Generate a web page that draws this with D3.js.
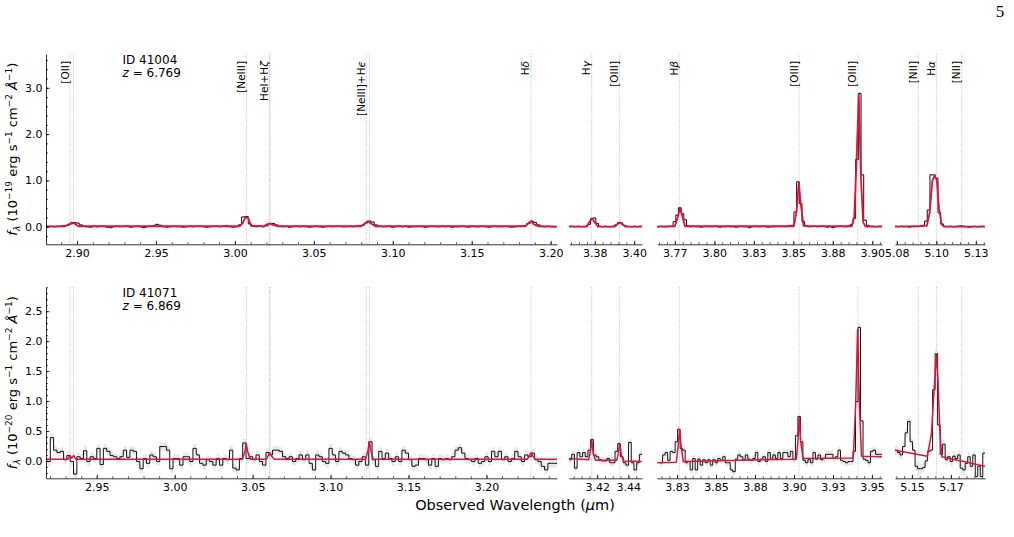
<!DOCTYPE html>
<html lang="en">
<head>
<meta charset="UTF-8">
<script src="https://d3js.org/d3.v7.min.js"></script>
<style>
body { margin: 0; background: #fff; }
svg { font-family: 'DejaVu Sans', sans-serif; }
text { white-space: pre; }
</style>
<title>Spectra 41004 / 41071</title>
</head>
<body>
<svg id="chart" width="1014" height="537"></svg>
<script>
// emission lines (vacuum rest wavelength, Angstrom) and their labels
const lineRest = [3727.09, 3729.88, 3870.86, 3889.75, 3890.17, 3968.59, 3971.20, 4102.89,
                  4341.69, 4364.44, 4862.69, 4960.30, 5008.24, 6549.86, 6564.61, 6585.27];
const lineLabels = ['[OII]', null, '[NeIII]', 'HeI+Hζ', null, '[NeIII]+Hϵ', null, 'Hδ',
                    'Hγ', '[OIII]', 'Hβ', '[OIII]', '[OIII]', '[NII]', 'Hα', '[NII]'];
// rest-frame range of each of the four broken-axis panels
const panelRest = [[3707.5, 4124.1], [4323.2, 4382.7], [4844.5, 5027.9], [6530.9, 6604.2]];

const ids = ['41004', '41071'];
const redshifts = [6.769, 6.869];
const fluxExp = ['19', '20'];

// y axes
const yDomain41004 = [-0.38, 3.73];
const yDomain41071 = [-0.29, 2.905];
const yTicks41004 = [0, 1, 2, 3];
const yTicks41071 = [0, 0.5, 1, 1.5, 2, 2.5];

// x ticks (um) and their printed labels
const xTicks41004 = [[2.90, 2.95, 3.00, 3.05, 3.10, 3.15, 3.20], [3.375, 3.40],
                     [3.775, 3.80, 3.825, 3.85, 3.875, 3.90], [5.075, 5.10, 5.125]];
const xLabels41004 = [['2.90', '2.95', '3.00', '3.05', '3.10', '3.15', '3.20'], ['3.38', '3.40'],
                      ['3.77', '3.80', '3.83', '3.85', '3.88', '3.90'], ['5.08', '5.10', '5.13']];
const xTicks41071 = [[2.95, 3.00, 3.05, 3.10, 3.15, 3.20], [3.42, 3.44],
                     [3.825, 3.85, 3.875, 3.90, 3.925, 3.95], [5.15, 5.175]];
const xLabels41071 = [['2.95', '3.00', '3.05', '3.10', '3.15', '3.20'], ['3.42', '3.44'],
                      ['3.83', '3.85', '3.88', '3.90', '3.93', '3.95'], ['5.15', '5.17']];
const xMinor = [0.01, 0.005, 0.005, 0.005];

// spectrum grids: first bin edge (um) and bin width per panel
const wStart41004 = [2.88036, 3.35869, 3.76369, 5.07386];
const wStep41004 = [0.0021, 0.0017, 0.0017, 0.0017];
const wStart41071 = [2.91807, 3.40193, 3.81412, 5.13917];
const wStep41071 = [0.002128, 0.001736, 0.001607, 0.001607];

// observed flux, ID 41004 (1e-19)
const flux41004a = [
  0.01, 0.01, 0.00, 0.01, 0.01, 0.02, 0.03, 0.06, 0.09, 0.08,
  0.04, 0.01, 0.00, -0.01, 0.01, 0.00, 0.01, 0.01, -0.01, -0.02,
  0.00, 0.01, 0.00, 0.01, 0.01, -0.01, 0.00, 0.01, 0.00, -0.02,
  0.00, 0.01, 0.02, 0.05, 0.03, 0.00, -0.01, 0.00, 0.01, 0.00,
  0.00, -0.01, 0.00, 0.01, 0.00, 0.01, 0.01, 0.00, -0.01, 0.00,
  0.01, 0.01, 0.00, 0.01, 0.02, 0.00, -0.01, 0.00, 0.04, 0.21,
  0.22, 0.06, 0.01, 0.00, 0.01, 0.00, 0.02, 0.06, 0.07, 0.04,
  0.01, 0.00, 0.01, -0.01, 0.00, 0.01, 0.00, 0.01, 0.00, -0.01,
  0.00, 0.01, 0.00, -0.01, 0.00, 0.01, 0.00, 0.01, 0.01, 0.00,
  0.00, 0.01, 0.00, 0.01, 0.02, 0.03, 0.08, 0.12, 0.10, 0.04,
  0.01, 0.00, 0.00, 0.01, -0.01, 0.00, 0.01, 0.00, 0.01, -0.01,
  0.00, 0.00, 0.01, 0.00, -0.01, 0.00, 0.01, 0.00, 0.00, 0.01,
  0.00, 0.01, -0.01, 0.00, 0.00, 0.01, 0.00, -0.01, 0.01, 0.00,
  0.00, 0.01, 0.00, -0.01, 0.00, 0.01, 0.00, 0.00, 0.01, 0.00,
  -0.01, 0.00, 0.01, 0.01, 0.02, 0.07, 0.12, 0.09, 0.04, 0.01,
  0.00, 0.01, 0.00, 0.00];
const flux41004b = [
  0.01, 0.01, 0.00, 0.01, 0.00, 0.00, 0.01, 0.05, 0.17, 0.19,
  0.07, 0.01, 0.00, 0.01, 0.00, 0.00, 0.01, 0.04, 0.09, 0.08,
  0.03, 0.01, 0.00, 0.00, 0.01, 0.00, 0.01];
const flux41004c = [
  0.00, 0.01, 0.00, 0.00, 0.01, 0.01, 0.11, 0.25, 0.41, 0.28,
  0.15, 0.02, 0.00, 0.01, 0.00, 0.00, -0.01, 0.00, 0.01, 0.00,
  0.00, 0.01, 0.00, -0.01, 0.00, 0.00, 0.01, 0.00, 0.00, -0.01,
  0.00, 0.01, 0.00, 0.00, -0.02, 0.00, 0.01, 0.00, 0.00, 0.01,
  0.00, -0.01, 0.00, 0.00, 0.01, 0.00, 0.01, 0.00, 0.01, 0.02,
  0.03, 0.32, 0.97, 0.50, 0.11, 0.02, 0.00, 0.00, 0.01, 0.00,
  0.00, 0.01, 0.00, -0.01, 0.00, -0.02, 0.00, 0.00, 0.01, 0.00,
  0.00, 0.02, 0.05, 0.18, 1.45, 2.88, 1.12, 0.14, 0.03, 0.01,
  0.01, 0.00, 0.01, 0.01];
const flux41004d = [
  0.01, 0.00, 0.01, 0.00, 0.00, -0.01, 0.00, 0.00, 0.00, 0.01,
  0.03, 0.12, 0.36, 1.12, 1.12, 1.05, 0.30, 0.06, 0.01, 0.00,
  0.01, 0.00, 0.00, 0.01, 0.02, 0.01, 0.00, -0.01, 0.00, 0.01,
  0.00, 0.00, 0.01];
const err41004 = [0.02, 0.02, 0.02, 0.02];

// observed flux, ID 41071 (1e-20)
const flux41071a = [
  -0.01, 0.39, 0.18, 0.14, 0.16, 0.02, 0.09, -0.01, -0.22, 0.07,
  0.04, 0.17, -0.01, 0.07, 0.04, 0.21, -0.06, 0.21, 0.16, 0.09,
  0.07, 0.04, 0.07, 0.18, 0.06, 0.18, 0.16, -0.01, -0.13, 0.04,
  -0.04, 0.10, 0.07, -0.01, 0.24, 0.24, 0.18, -0.13,
  0.04, 0.04, -0.07, 0.07, 0.07, -0.01, 0.21, 0.10, -0.04, -0.07,
  0.02, -0.01, -0.07, 0.04, -0.07, 0.04, 0.02, 0.18, -0.12, -0.15,
  0.04, 0.30, 0.04, 0.07, 0.02, 0.10, -0.01, -0.07, 0.14, 0.10,
  0.18, 0.18, 0.16, 0.07, 0.04, 0.07, -0.01, 0.04,
  0.10, 0.02, 0.10, -0.04, -0.15, 0.10, 0.07, -0.01, -0.04, 0.21,
  0.10, -0.01, 0.16, 0.13, 0.10, 0.04, 0.02, -0.07, -0.01, 0.07,
  -0.07, 0.32, 0.02, -0.09, 0.16, 0.04, 0.13, 0.04, -0.01, 0.07,
  -0.01, 0.18, 0.13, 0.02, -0.09, -0.07, 0.04, 0.04,
  0.02, -0.07, 0.04, -0.09, 0.04, 0.02, 0.04, 0.02, 0.07, 0.18,
  0.22, 0.13, 0.04, 0.02, -0.01, 0.04, -0.04, -0.01, 0.07, -0.01,
  0.16, 0.07, 0.16, 0.02, 0.07, -0.01, 0.04, 0.16, 0.07, -0.01,
  0.10, 0.07, 0.13, 0.02, -0.01, -0.09, -0.15, -0.04, -0.04, -0.04];
const flux41071b = [
  0.02, 0.11, -0.12, 0.14, 0.07, 0.14, 0.07, 0.18, 0.36, 0.10,
  0.07, 0.02, 0.00, 0.00, 0.04, -0.03, -0.03, 0.16, 0.29, 0.07,
  -0.03, -0.07, 0.31, -0.03, -0.15, -0.03, 0.11];
const flux41071c = [
  -0.03, 0.10, 0.14, 0.01, 0.16, 0.14, 0.32, 0.53, 0.21, 0.18,
  -0.03, -0.01, -0.15, 0.04, -0.15, 0.03, -0.07, 0.02, -0.03, 0.02,
  -0.07, 0.02, -0.03, 0.04, 0.01, 0.07, -0.03, -0.03, -0.15, -0.18,
  0.03, 0.10, 0.07, 0.02, 0.10, 0.03, 0.01, 0.04, 0.14, -0.01,
  0.03, 0.07, -0.01, 0.14, 0.03, 0.10, 0.04, 0.14, 0.04, 0.14,
  0.14, 0.07, 0.16, 0.02, 0.42, 0.74, 0.32, 0.01, -0.03, 0.02,
  -0.03, 0.14, 0.03, 0.10, 0.02, 0.04, 0.11, 0.11, 0.11, 0.04,
  0.07, 0.18, 0.01, -0.01, -0.03, -0.01, -0.01, 0.16, 0.99, 2.23,
  0.67, 0.03, 0.01, -0.03, 0.16, 0.18, 0.11, 0.11, 0.11];
const flux41071d = [
  0.18, 0.14, 0.10, 0.24, 0.47, 0.66, 0.32, 0.18, -0.09, -0.13,
  -0.13, -0.11, 0.00, 0.16, 0.18, 1.19, 1.79, 0.60, 0.11, 0.28,
  0.02, 0.07, -0.01, 0.08, 0.04, 0.10, -0.12, -0.15, -0.04, 0.07,
  -0.09, 0.10, -0.26, -0.09, -0.26, 0.13];
const err41071 = [0.07, 0.06, 0.06, 0.08];

// best-fit models: [wavelength um, flux]
const model41004a = [[2.8804, 0.00], [2.8925, 0.01], [2.8948, 0.05], [2.8966, 0.09], [2.8984, 0.07],
  [2.9008, 0.01], [3.0030, 0.01], [3.0050, 0.08], [3.0066, 0.20], [3.0083, 0.19], [3.0103, 0.02],
  [3.0182, 0.01], [3.0204, 0.05], [3.0221, 0.07], [3.0239, 0.04], [3.0268, 0.01], [3.0800, 0.01],
  [3.0824, 0.07], [3.0842, 0.12], [3.0862, 0.07], [3.0890, 0.01], [3.1840, 0.01], [3.1860, 0.08],
  [3.1876, 0.12], [3.1894, 0.05], [3.1920, 0.01], [3.2040, 0.00]];
const model41004b = [[3.3587, 0.00], [3.3697, 0.00], [3.3716, 0.10], [3.3733, 0.18], [3.3749, 0.10],
  [3.3770, 0.00], [3.3875, 0.00], [3.3893, 0.05], [3.3909, 0.09], [3.3925, 0.05], [3.3945, 0.00],
  [3.4049, 0.00]];
const model41004c = [[3.7637, 0.00], [3.7750, 0.01], [3.7766, 0.18], [3.7783, 0.40], [3.7798, 0.22],
  [3.7814, 0.01], [3.8503, 0.01], [3.8521, 0.33], [3.8535, 0.95], [3.8549, 0.45], [3.8565, 0.02],
  [3.8870, 0.01], [3.8886, 0.20], [3.8900, 1.40], [3.8915, 2.85], [3.8928, 1.10], [3.8942, 0.10],
  [3.8958, 0.00], [3.9062, 0.00]];
const model41004d = [[5.0738, 0.00], [5.0940, 0.02], [5.0958, 0.30], [5.0975, 1.00], [5.0990, 1.10],
  [5.1003, 1.00], [5.1017, 0.40], [5.1033, 0.05], [5.1050, 0.00], [5.1308, 0.00]];

const model41071a = [[2.9174, 0.03], [2.9315, 0.03], [2.9328, 0.09], [2.9340, 0.05], [2.9352, 0.09],
  [2.9365, 0.03], [3.0435, 0.03], [3.0450, 0.16], [3.0459, 0.29], [3.0470, 0.14], [3.0486, 0.03],
  [3.0588, 0.03], [3.0602, 0.10], [3.0611, 0.14], [3.0622, 0.08], [3.0638, 0.03], [3.1225, 0.03],
  [3.1240, 0.18], [3.1249, 0.32], [3.1259, 0.16], [3.1273, 0.03], [3.2262, 0.03], [3.2278, 0.10],
  [3.2287, 0.14], [3.2298, 0.08], [3.2312, 0.03], [3.2453, 0.03]];
const model41071b = [[3.4019, 0.04], [3.4145, 0.02], [3.4156, 0.15], [3.4165, 0.35], [3.4175, 0.12],
  [3.4190, 0.01], [3.4325, 0.01], [3.4336, 0.13], [3.4345, 0.29], [3.4355, 0.10], [3.4370, 0.00],
  [3.4487, -0.01]];
const model41071c = [[3.8122, -0.03], [3.8245, -0.02], [3.8257, 0.25], [3.8266, 0.52], [3.8276, 0.25],
  [3.8290, -0.01], [3.9015, 0.03], [3.9026, 0.35], [3.9034, 0.72], [3.9044, 0.30], [3.9058, 0.04],
  [3.9380, 0.05], [3.9395, 0.90], [3.9408, 2.20], [3.9420, 0.90], [3.9433, 0.08], [3.9565, 0.07]];
const model41071d = [[5.1392, 0.18], [5.1599, 0.08], [5.1625, 0.45], [5.1645, 1.30], [5.1657, 1.78],
  [5.1668, 1.30], [5.1680, 0.45], [5.1692, 0.07], [5.1969, -0.09]];

// ---- layout ----
const rowsY = [[54, 244.3], [287, 478.3]];
const panelPx = [[46, 557], [569, 642], [657, 882], [895, 985]];
const FONT = "'DejaVu Sans', sans-serif";

const rows = [
  { id: ids[0], z: redshifts[0], exp: fluxExp[0], yDom: yDomain41004, yTicks: yTicks41004,
    xTicks: xTicks41004, xLabels: xLabels41004, start: wStart41004, step: wStep41004,
    flux: [flux41004a, flux41004b, flux41004c, flux41004d], err: err41004,
    model: [model41004a, model41004b, model41004c, model41004d], modelWidth: 1.8 },
  { id: ids[1], z: redshifts[1], exp: fluxExp[1], yDom: yDomain41071, yTicks: yTicks41071,
    xTicks: xTicks41071, xLabels: xLabels41071, start: wStart41071, step: wStep41071,
    flux: [flux41071a, flux41071b, flux41071c, flux41071d], err: err41071,
    model: [model41071a, model41071b, model41071c, model41071d], modelWidth: 1.5 }
];

const svg = d3.select('#chart');

// step data -> points with a closing edge
let stepPoints = (start, step, flux) => {
  let pts = flux.map((f, i) => [start + i * step, f]);
  pts.push([start + flux.length * step, flux[flux.length - 1]]);
  return pts;
};

let lineLabel = (g, xPos, yPos, label) => {
  let t = g.append('text')
    .attr('transform', `translate(${xPos},${yPos}) rotate(-90)`)
    .attr('text-anchor', 'end')
    .attr('font-size', 10.5)
    .attr('fill', '#000');
  label.split(/([α-ωϵ])/).forEach(s => {
    if (!s) return;
    let sp = t.append('tspan').text(s);
    if (/[α-ωϵ]/.test(s)) sp.attr('font-style', 'italic');
  });
};

let yLabel = (xPos, yPos, exp) => {
  let t = svg.append('text')
    .attr('transform', `translate(${xPos},${yPos}) rotate(-90)`)
    .attr('text-anchor', 'middle')
    .attr('font-size', 13);
  const sup = (s) => t.append('tspan').attr('font-size', 9).attr('dy', -5).text(s);
  const base = (s) => t.append('tspan').attr('dy', 5).text(s);
  t.append('tspan').attr('font-style', 'italic').text('f');
  t.append('tspan').attr('font-style', 'italic').attr('font-size', 9).attr('dy', 3).text('λ');
  t.append('tspan').attr('dy', -3).text(' (10');
  sup('−' + exp); base(' erg s');
  sup('−1'); base(' cm');
  sup('−2'); base(' ');
  t.append('tspan').attr('font-style', 'italic').text('Å');
  sup('−1'); base(')');
};

rows.forEach((row, r) => {
  const [yTop, yBot] = rowsY[r];
  const y = d3.scaleLinear().domain(row.yDom).range([yBot, yTop]);
  const g = svg.append('g');

  panelPx.forEach((px, p) => {
    const x = d3.scaleLinear()
      .domain(panelRest[p].map(w => w * (1 + row.z) / 1e4))
      .range(px);
    const [d0, d1] = x.domain();
    const clipId = `clip${r}${p}`;
    svg.append('clipPath').attr('id', clipId)
      .append('rect').attr('x', px[0]).attr('y', yTop)
      .attr('width', px[1] - px[0]).attr('height', yBot - yTop);

    const pg = g.append('g');

    // line markers
    lineRest.forEach((w, k) => {
      const obs = w * (1 + row.z) / 1e4;
      if (obs < d0 || obs > d1) return;
      pg.append('line')
        .attr('x1', x(obs)).attr('x2', x(obs))
        .attr('y1', yTop).attr('y2', yBot)
        .attr('stroke', '#b5b5b5').attr('stroke-width', 0.8)
        .attr('stroke-dasharray', '1,1.2');
      if (r === 0 && lineLabels[k]) lineLabel(pg, x(obs) - 1.5, yTop + 7, lineLabels[k]);
    });

    const dg = pg.append('g').attr('clip-path', `url(#${clipId})`);
    const pts = stepPoints(row.start[p], row.step[p], row.flux[p]);
    const e = row.err[p];

    dg.append('path').datum(pts)
      .attr('d', d3.area().curve(d3.curveStepAfter)
        .x(d => x(d[0])).y0(d => y(d[1] - e)).y1(d => y(d[1] + e)))
      .attr('fill', '#e2e2e2').attr('opacity', 0.8);
    dg.append('path').datum(pts)
      .attr('d', d3.line().curve(d3.curveStepAfter).x(d => x(d[0])).y(d => y(d[1])))
      .attr('fill', 'none').attr('stroke', '#111').attr('stroke-width', 1);
    dg.append('path').datum(row.model[p])
      .attr('d', d3.line().x(d => x(d[0])).y(d => y(d[1])))
      .attr('fill', 'none').attr('stroke', '#dc143c').attr('stroke-width', row.modelWidth)
      .attr('stroke-linejoin', 'round');

    // bottom axis, ticks pointing in
    const minors = d3.range(Math.ceil(d0 / xMinor[p]) * xMinor[p], d1, xMinor[p]);
    pg.append('g')
      .attr('transform', `translate(0,${yBot})`)
      .call(d3.axisBottom(x).tickValues(minors).tickFormat('').tickSize(-2).tickSizeOuter(0))
      .call(a => a.select('.domain').remove())
      .call(a => a.selectAll('line').attr('stroke-width', 0.7));
    pg.append('g')
      .attr('transform', `translate(0,${yBot})`)
      .call(d3.axisBottom(x).tickValues(row.xTicks[p])
        .tickFormat((d, i) => row.xLabels[p][i])
        .tickSize(-3.5).tickSizeOuter(0).tickPadding(4.4))
      .call(a => a.attr('font-family', FONT).attr('font-size', 11))
      .call(a => a.selectAll('line, path').attr('stroke-width', 0.8));

    if (p === 0) {
      const yMinor = d3.range(Math.ceil(row.yDom[0] / (row.yTicks[1] / 5)) * (row.yTicks[1] / 5),
                              row.yDom[1], row.yTicks[1] / 5);
      pg.append('g')
        .attr('transform', `translate(${px[0]},0)`)
        .call(d3.axisLeft(y).tickValues(yMinor).tickFormat('').tickSize(-2).tickSizeOuter(0))
        .call(a => a.select('.domain').remove())
        .call(a => a.selectAll('line').attr('stroke-width', 0.7));
      pg.append('g')
        .attr('transform', `translate(${px[0]},0)`)
        .call(d3.axisLeft(y).tickValues(row.yTicks).tickFormat(d3.format('.1f'))
          .tickSize(-3.5).tickSizeOuter(0).tickPadding(3.5))
        .call(a => a.attr('font-family', FONT).attr('font-size', 11))
        .call(a => a.selectAll('line, path').attr('stroke-width', 0.8));
    }
  });

  // object id and redshift
  svg.append('text').attr('x', 122.5).attr('y', yTop + 9.5).attr('font-size', 12).text('ID ' + row.id);
  const zt = svg.append('text').attr('x', 122.5).attr('y', yTop + 23).attr('font-size', 12);
  zt.append('tspan').attr('font-style', 'italic').text('z');
  zt.append('tspan').text(' = ' + row.z.toFixed(3));

  yLabel(17, (yTop + yBot) / 2, row.exp);
});

// x axis title
const xt = svg.append('text').attr('x', 515).attr('y', 510)
  .attr('text-anchor', 'middle').attr('font-size', 14.5);
xt.append('tspan').text('Observed Wavelength (');
xt.append('tspan').attr('font-style', 'italic').text('μ');
xt.append('tspan').text('m)');

// page number
svg.append('text').attr('x', 1000).attr('y', 17).attr('text-anchor', 'middle')
  .attr('font-family', "'Liberation Serif', serif").attr('font-size', 17).text('5');
</script>
</body>
</html>
